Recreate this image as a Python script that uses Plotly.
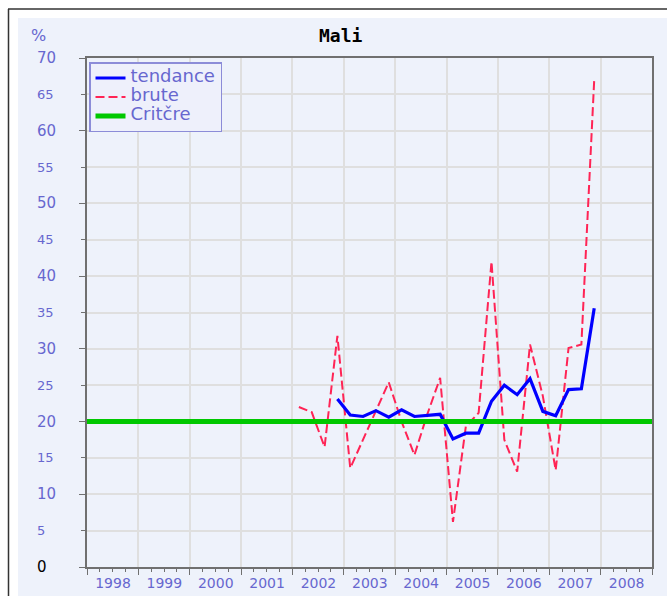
import plotly.graph_objects as go

# Quarterly series, periods given as "YYYY-Tq"
brute_periods = [
    "2002-T1", "2002-T2", "2002-T3", "2002-T4",
    "2003-T1", "2003-T2", "2003-T3", "2003-T4",
    "2004-T1", "2004-T2", "2004-T3", "2004-T4",
    "2005-T1", "2005-T2", "2005-T3", "2005-T4",
    "2006-T1", "2006-T2", "2006-T3", "2006-T4",
    "2007-T1", "2007-T2", "2007-T3", "2007-T4",
]
brute_values = [
    22.0, 21.3, 16.5, 31.8,
    13.6, 17.6, 21.5, 25.4,
    20.0, 15.4, 21.0, 26.0,
    6.2, 19.3, 21.2, 42.0,
    17.5, 13.1, 30.6, 23.5,
    13.3, 30.1, 30.6, 67.0,
]

tendance_periods = [
    "2002-T4",
    "2003-T1", "2003-T2", "2003-T3", "2003-T4",
    "2004-T1", "2004-T2", "2004-T3", "2004-T4",
    "2005-T1", "2005-T2", "2005-T3", "2005-T4",
    "2006-T1", "2006-T2", "2006-T3", "2006-T4",
    "2007-T1", "2007-T2", "2007-T3", "2007-T4",
]
tendance_values = [
    23.1,
    20.9, 20.7, 21.5, 20.6,
    21.6, 20.7, 20.8, 21.0,
    17.6, 18.4, 18.4, 22.8,
    25.0, 23.7, 25.9, 21.4,
    20.8, 24.4, 24.5, 35.6,
]

critere_value = 20
year_range = [1998, 2009]
year_labels = ["1998", "1999", "2000", "2001", "2002", "2003",
               "2004", "2005", "2006", "2007", "2008"]
y_tick_values = list(range(0, 75, 5))


def period_to_x(p):
    """Place a quarter at the middle of its slot within the year."""
    year, q = p.split("-T")
    return int(year) + (int(q) - 0.5) / 4


# page geometry (pixels) used to place decorations in paper coordinates
W, H = 667, 596
PL, PR, PT, PB = 87, 652, 58, 567


def px(x):
    return (x - PL) / (PR - PL)


def py(y):
    return (PB - y) / (PB - PT)


LABEL_BLUE = "#6767cf"
FONT = "DejaVu Sans"


def legend_name(s):
    return f"<span style='font-size:18px'>{s}</span>"


fig = go.Figure()

fig.add_trace(go.Scatter(
    x=[period_to_x(p) for p in brute_periods], y=brute_values,
    mode="lines", name=legend_name("brute"), legendrank=2,
    line=dict(color="#ff2455", width=2, dash="9px,4px"),
))
fig.add_trace(go.Scatter(
    x=[period_to_x(p) for p in tendance_periods], y=tendance_values,
    mode="lines", name=legend_name("tendance"), legendrank=1,
    line=dict(color="#0000ff", width=3.2),
))
fig.add_trace(go.Scatter(
    x=year_range, y=[critere_value, critere_value],
    mode="lines", name=legend_name("Critčre"), legendrank=3,
    line=dict(color="#00c800", width=5),
))

shapes = [
    # light panel behind the chart
    dict(type="rect", xref="paper", yref="paper",
         x0=px(18), x1=px(W + 2), y0=py(H + 2), y1=py(18),
         fillcolor="#eef2fb", line=dict(width=0), layer="below"),
    # dark frame lines along top and left
    dict(type="line", xref="paper", yref="paper",
         x0=px(8), x1=px(W + 2), y0=py(9), y1=py(9),
         line=dict(color="#333333", width=1.5), layer="below"),
    dict(type="line", xref="paper", yref="paper",
         x0=px(8.5), x1=px(8.5), y0=py(9), y1=py(H + 2),
         line=dict(color="#333333", width=1.5), layer="below"),
]

annotations = [
    dict(text="<b>Mali</b>", xref="paper", yref="paper",
         x=px(341), y=py(35), xanchor="center", yanchor="middle",
         showarrow=False,
         font=dict(family="DejaVu Sans Mono", size=18, color="#000000")),
    dict(text="%", xref="paper", yref="paper",
         x=px(38.5), y=py(35), xanchor="center", yanchor="middle",
         showarrow=False,
         font=dict(family=FONT, size=16, color=LABEL_BLUE)),
]
for v in y_tick_values:
    annotations.append(dict(
        text=str(v), xref="paper", yref="y", x=px(35), y=v,
        xanchor="left", yanchor="middle", showarrow=False,
        font=dict(family=FONT, size=15 if v % 10 == 0 else 13,
                  color="#000000" if v == 0 else LABEL_BLUE),
    ))

GRID = "#dfdfdf"
AXIS = "#707070"

fig.update_layout(
    width=W, height=H,
    margin=dict(l=PL, r=W - PR, t=PT, b=H - PB, autoexpand=False),
    paper_bgcolor="#ffffff",
    plot_bgcolor="#fefde7",
    shapes=shapes,
    annotations=annotations,
    showlegend=True,
    legend=dict(
        x=px(89), y=py(62), xanchor="left", yanchor="top",
        bgcolor="#eef0fb", bordercolor="#8c8cd8", borderwidth=1.5,
        font=dict(family=FONT, size=11, color=LABEL_BLUE),
        itemwidth=30, tracegroupgap=0,
    ),
    xaxis=dict(
        range=year_range,
        tickmode="array",
        tickvals=list(range(year_range[0], year_range[1] + 1)),
        ticktext=year_labels + [""],
        ticklabelshift=26,
        ticklabelstandoff=-4,
        ticks="outside", ticklen=6, tickwidth=1, tickcolor=AXIS,
        tickfont=dict(family=FONT, size=14, color=LABEL_BLUE),
        showgrid=True, gridcolor=GRID, gridwidth=2,
        minor=dict(tickmode="linear", tick0=1998, dtick=0.25,
                   ticks="outside", ticklen=3, tickcolor=AXIS,
                   showgrid=False),
        showline=True, linecolor=AXIS, linewidth=1.5, mirror=True,
        zeroline=False, fixedrange=True, automargin=False,
    ),
    yaxis=dict(
        range=[0, 70],
        tickmode="linear", tick0=0, dtick=10,
        ticks="outside", ticklen=6, tickwidth=1, tickcolor=AXIS,
        showticklabels=False,
        showgrid=True, gridcolor=GRID, gridwidth=2,
        minor=dict(tickmode="linear", tick0=0, dtick=5,
                   ticks="outside", ticklen=4, tickcolor=AXIS,
                   showgrid=True, gridcolor=GRID, gridwidth=2),
        showline=True, linecolor=AXIS, linewidth=1.5, mirror=True,
        zeroline=False, fixedrange=True, automargin=False,
    ),
)

fig.write_html("out.html")
